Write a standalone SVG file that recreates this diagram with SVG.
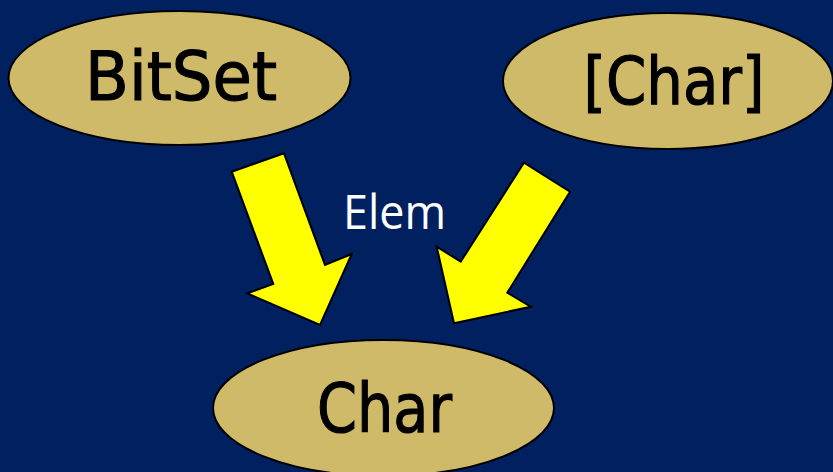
<svg xmlns="http://www.w3.org/2000/svg" width="833" height="472" viewBox="0 0 833 472">
  <style>
    .node ellipse { fill: #CFBA69; stroke: #000; stroke-width: 2; }
    .node text { font-family: "DejaVu Sans", "Open Sans", sans-serif; fill: #000; stroke: #000; stroke-width: 1.2; text-anchor: middle; }
    .arrow { fill: #FFFF00; stroke: #000; stroke-width: 2; stroke-linejoin: miter; }
    .label { font-family: "Open Sans", "DejaVu Sans", sans-serif; fill: #FFFFFF; font-size: 47px; }
  </style>
  <rect width="833" height="472" fill="#002060"/>

  <g id="bitset" class="node">
    <ellipse cx="179.5" cy="78" rx="171" ry="67"/>
    <text x="181" y="100" font-size="68" textLength="192" lengthAdjust="spacingAndGlyphs">BitSet</text>
  </g>

  <g id="char-list" class="node">
    <ellipse cx="668" cy="81" rx="165" ry="68"/>
    <text x="674" y="104" font-size="66" textLength="181" lengthAdjust="spacingAndGlyphs">[Char]</text>
  </g>

  <g id="char" class="node">
    <ellipse cx="383.5" cy="408" rx="170.5" ry="68"/>
    <text x="384.5" y="432" font-size="68" textLength="135" lengthAdjust="spacingAndGlyphs">Char</text>
  </g>

  <g id="connectors">
    <polygon class="arrow" points="231.7,171.7 284,153.3 325,265 351.7,254 320,325 247.3,293.3 273.3,284"/>
    <polygon class="arrow" points="524,162.7 570,191.7 507.3,292.7 530.7,306.7 454,323.3 436.7,246.7 460.7,261.7"/>
    <text class="label" x="343" y="229" textLength="103" lengthAdjust="spacingAndGlyphs">Elem</text>
  </g>
</svg>
